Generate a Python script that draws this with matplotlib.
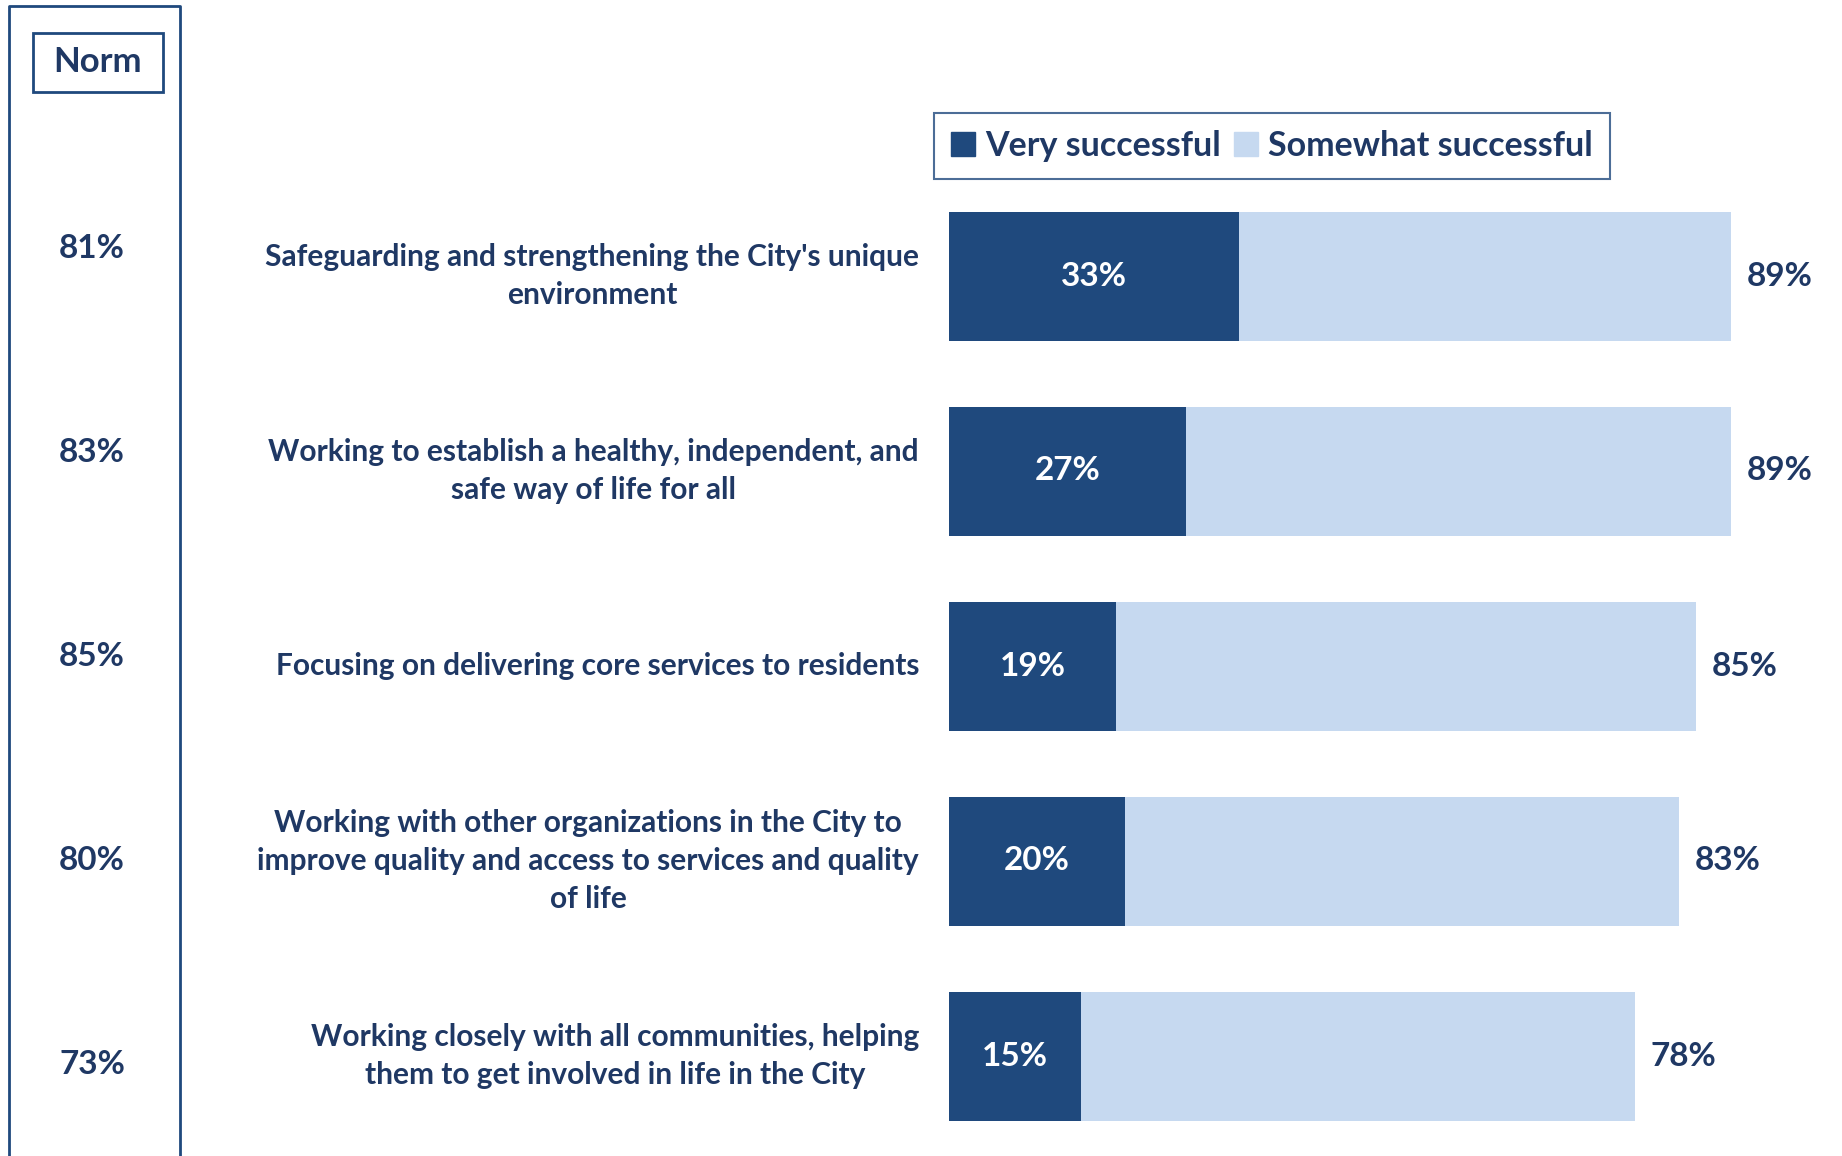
import matplotlib.pyplot as plt
import matplotlib.transforms as mtransforms
from matplotlib.patches import Rectangle, Patch
from matplotlib.lines import Line2D

plt.rcParams['font.family'] = ['Lato', 'DejaVu Sans']
plt.rcParams['font.weight'] = 'bold'

categories = [
    "Safeguarding and strengthening the City's unique\nenvironment",
    "Working to establish a healthy, independent, and\nsafe way of life for all",
    "Focusing on delivering core services to residents",
    "Working with other organizations in the City to\nimprove quality and access to services and quality\nof life",
    "Working closely with all communities, helping\nthem to get involved in life in the City",
]
very = [33, 27, 19, 20, 15]
total = [89, 89, 85, 83, 78]
norm = [81, 83, 85, 80, 73]

dark = '#1F497D'
light = '#C6D9F0'
txt = '#1F3864'

W, H = 1842, 1156
fig = plt.figure(figsize=(W / 100, H / 100), dpi=100)

# bar axes: x=0 at 949 px, 1% = 8.79 px; rows centred at 276 + 195*i px
x0 = 949
px_per = 8.79
ax = fig.add_axes([x0 / W, 0, (W - x0) / W, 1])
ax.set_xlim(0, (W - x0) / px_per)
ax.set_ylim((H - 276) / 195, -276 / 195)
ax.axis('off')

rows = range(len(categories))
some = [t - v for t, v in zip(total, very)]
ax.barh(rows, very, height=129 / 195, color=dark)
ax.barh(rows, some, left=very, height=129 / 195, color=light)

for i in rows:
    ax.text(very[i] / 2, i, f"{very[i]}%", color='white', fontsize=24,
            ha='center', va='center')
    ax.text(total[i] + 1.8, i, f"{total[i]}%", color=txt, fontsize=24,
            ha='left', va='center')

lab_tr = mtransforms.blended_transform_factory(fig.transFigure, ax.transData)
for i, c in enumerate(categories):
    ax.text(919 / W, i, c, transform=lab_tr, ha='right', va='center',
            multialignment='center', color=txt, fontsize=21.5, linespacing=1.45,
            clip_on=False)

# norm column
for i, n in enumerate(norm):
    y_px = 249 + 204 * i
    fig.text(92 / W, 1 - y_px / H, f"{n}%", ha='center', va='center',
             color=txt, fontsize=24)

# left frame (open at bottom)
fx0, fx1, fy0 = 9 / W, 180 / W, 1 - 6 / H
fig.add_artist(Line2D([fx0, fx0, fx1, fx1], [0, fy0, fy0, 0],
                      transform=fig.transFigure, color=dark, lw=2))
fig.add_artist(Rectangle((33 / W, 1 - 92 / H), 130 / W, 59 / H,
                         transform=fig.transFigure, fill=False,
                         edgecolor=dark, lw=2))
fig.text(98 / W, 1 - 62 / H, "Norm", ha='center', va='center',
         color=txt, fontsize=25)

handles = [Patch(color=dark, label='Very successful'),
           Patch(color=light, label='Somewhat successful')]
leg = fig.legend(handles=handles, loc='upper left',
                 bbox_to_anchor=(934 / W, 1 - 113 / H), ncol=2,
                 fontsize=24.5, frameon=True, fancybox=False,
                 handlelength=0.7, handleheight=0.7, handletextpad=0.3,
                 columnspacing=0.4, borderpad=0.5, borderaxespad=0)
leg.get_frame().set_edgecolor(dark)
leg.get_frame().set_linewidth(1.5)
for t in leg.get_texts():
    t.set_color(txt)

fig.savefig('out.png', dpi=100)
